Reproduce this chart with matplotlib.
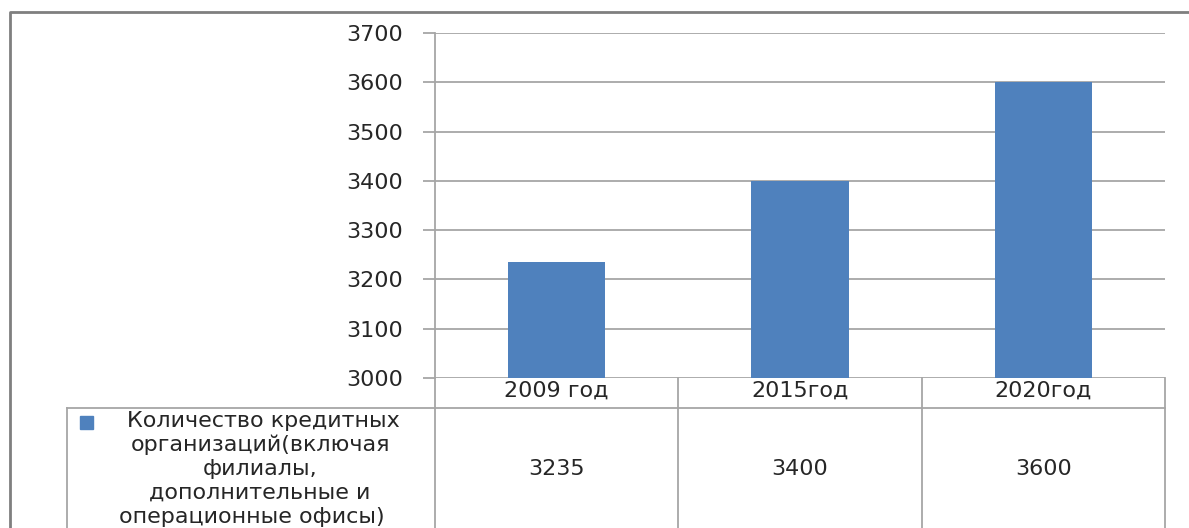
import matplotlib.pyplot as plt
import numpy as np
from matplotlib.lines import Line2D
from matplotlib.patches import Rectangle
from matplotlib.transforms import blended_transform_factory

years = ['2009 год', '2015год', '2020год']
values = [3235, 3400, 3600]
legend_lines = ['Количество кредитных', 'организаций(включая', 'филиалы,',
                'дополнительные и', 'операционные офисы)']
yticks = [3000, 3100, 3200, 3300, 3400, 3500, 3600, 3700]

W, H = 1189, 528
bar_color = '#4f81bd'
line_color = '#a6a6a6'
text_color = '#262626'
fs = 16

fig = plt.figure(figsize=(W / 100, H / 100), dpi=100)

def fx(px):
    return px / W

def fy(py):
    return 1 - py / H

ax = fig.add_axes([fx(435), fy(378), fx(1165) - fx(435), fy(33) - fy(378)])
x = np.arange(len(years))
ax.bar(x, values, width=0.4, color=bar_color, zorder=3)
ax.set_xlim(-0.5, len(years) - 0.5)
ax.set_ylim(3000, 3700)
ax.set_yticks(yticks)
ax.set_yticklabels([str(t) for t in yticks], fontsize=fs, color=text_color)
ax.set_xticks([])
ax.grid(axis='y', color=line_color, linewidth=1.3, zorder=0)
for s in ['top', 'right', 'bottom']:
    ax.spines[s].set_visible(False)
ax.spines['left'].set_color(line_color)
ax.spines['left'].set_linewidth(1.3)
ax.tick_params(axis='y', length=9, width=1.3, color=line_color, pad=14)

# data table under the plot
bt = blended_transform_factory(ax.transData, fig.transFigure)
for b in np.arange(len(years) + 1) - 0.5:
    fig.add_artist(Line2D([b, b], [fy(378), 0], transform=bt,
                          color=line_color, linewidth=1.3))
fig.add_artist(Line2D([fx(67), fx(1165)], [fy(408), fy(408)],
                      transform=fig.transFigure, color=line_color, linewidth=1.3))
fig.add_artist(Line2D([fx(67), fx(67)], [fy(408), 0],
                      transform=fig.transFigure, color=line_color, linewidth=1.3))
for i, (yr, v) in enumerate(zip(years, values)):
    fig.text(i, fy(391), yr, transform=bt, ha='center', va='center',
             fontsize=fs, color=text_color)
    fig.text(i, fy(469), str(v), transform=bt, ha='center', va='center',
             fontsize=fs, color=text_color)

# legend key in the table
fig.add_artist(Rectangle((fx(80), fy(429)), fx(13), fy(416) - fy(429),
                         transform=fig.transFigure, color=bar_color))
centers = [263, 260, 260, 260, 252]
for i, (t, c) in enumerate(zip(legend_lines, centers)):
    fig.text(fx(c), fy(421 + i * 24), t, ha='center', va='center',
             fontsize=fs, color=text_color)

# outer frame
fig.add_artist(Line2D([fx(10), fx(10), 1], [0, fy(12), fy(12)],
                      transform=fig.transFigure, color='#7f7f7f', linewidth=2))

fig.savefig('out.png', dpi=100)
